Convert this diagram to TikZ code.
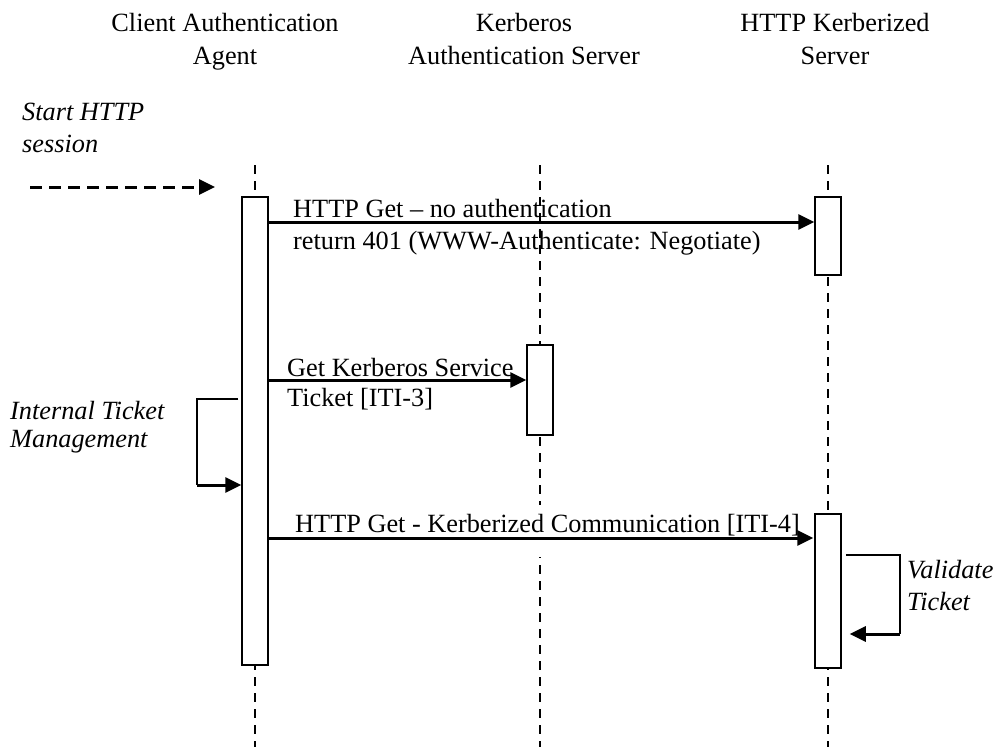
\documentclass[tikz,border=0pt]{standalone}
\usepackage{fontspec}
\setmainfont{Liberation Serif}
\usetikzlibrary{arrows.meta}
\usetikzlibrary{positioning}

\begin{document}
\begin{tikzpicture}[x=1pt, y=-1pt, >={Triangle[length=16pt,width=15pt]},
    lifeline/.style={line width=2pt, dash pattern=on 9pt off 7pt},
    actbox/.style={draw, line width=1.5pt, fill=white, minimum width=26pt, inner sep=0pt},
    msg/.style={->, line width=3pt},
    thin/.style={line width=1.5pt},
    lbl/.style={anchor=base west, inner sep=0pt, align=left, font=\fontsize{26.3}{32}\selectfont},
    note/.style={lbl, font=\fontsize{26.3}{32}\selectfont\itshape},
    head/.style={anchor=base, inner sep=0pt, align=center, font=\fontsize{26.3}{33}\selectfont}]
  \useasboundingbox (0,0) rectangle (999,747);
  %--- Headers
    \node[head] (hclient) at (225,64) {Client Authentication\\Agent};
    \node[head] (hkerb) at (524,64) {Kerberos\\Authentication Server};
    \node[head] (hhttp) at (835,64) {HTTP Kerberized\\Server};
  %--- Lifelines
    \coordinate (ctop) at (255,165);  \coordinate (cbot) at (255,747);
    \coordinate (ktop) at (540,165);  \coordinate (kbot) at (540,747);
    \coordinate (htop) at (828,165);  \coordinate (hbot) at (828,747);
    \draw[lifeline] (ctop) -- (cbot);
    \draw[lifeline] (ktop) -- (kbot);
    \draw[lifeline] (htop) -- (hbot);
  %--- Start HTTP session
    \node[note] (tstart) at (22,152) {Start HTTP\\session};
    \coordinate (sfrom) at (30,187);  \coordinate (sto) at (215,187);
    \draw[msg, dash pattern=on 12pt off 7pt] (sfrom) -- (sto);
  %--- Activation boxes
    \node[actbox, minimum height=468pt] (cact) at (255,431) {};
    \node[actbox, minimum height=90pt] (kact) at (540,390) {};
    \node[actbox, minimum height=78pt] (hact1) at (828,236) {};
    \node[actbox, minimum height=154pt] (hact2) at (828,591) {};
  %--- HTTP Get, no authentication
    \coordinate (m1) at (0,222);
    \draw[msg] (cact.east |- m1) -- (hact1.west |- m1);
    \node[lbl] (t1) at (293,249) {HTTP Get -- no authentication\\return 401 (WWW-Authenticate: Negotiate)};
  %--- Get Kerberos Service Ticket
    \coordinate (m2) at (0,380);
    \draw[msg] (cact.east |- m2) -- (kact.west |- m2);
    \node[lbl, font=\fontsize{26.3}{29.5}\selectfont] (t2) at (287,406) {Get Kerberos Service\\Ticket [ITI-3]};
  %--- Internal Ticket Management
    \node[note, font=\fontsize{26.3}{28}\selectfont\itshape] (tint) at (10,447) {Internal Ticket\\Management};
    \coordinate (itop) at (197,399);  \coordinate (ibot) at (197,485);
    \draw[thin] ([xshift=-3pt]cact.west |- itop) -- (itop) -- (ibot);
    \draw[msg] (ibot) -- (cact.west |- ibot);
  %--- HTTP Get, Kerberized
    \node[lbl, fill=white, inner ysep=9pt, text depth=16pt] (t3) at (295,532) {HTTP Get - Kerberized Communication [ITI-4]};
    \coordinate (m3) at (0,538);
    \draw[msg] (cact.east |- m3) -- ([xshift=-1pt]hact2.west |- m3);
  %--- Validate Ticket
    \node[note] (tval) at (907,610) {Validate\\Ticket};
    \coordinate (vtop) at (900,555);  \coordinate (vbot) at (900,634);
    \draw[thin] ([xshift=4pt]hact2.east |- vtop) -- (vtop) -- (vbot);
    \draw[msg] (vbot) -- ([xshift=8pt]hact2.east |- vbot);
  %--- redraw boxes above the arrows
    \node[actbox, minimum height=468pt] at (cact) {};
    \node[actbox, minimum height=154pt] at (hact2) {};
\end{tikzpicture}
\end{document}
